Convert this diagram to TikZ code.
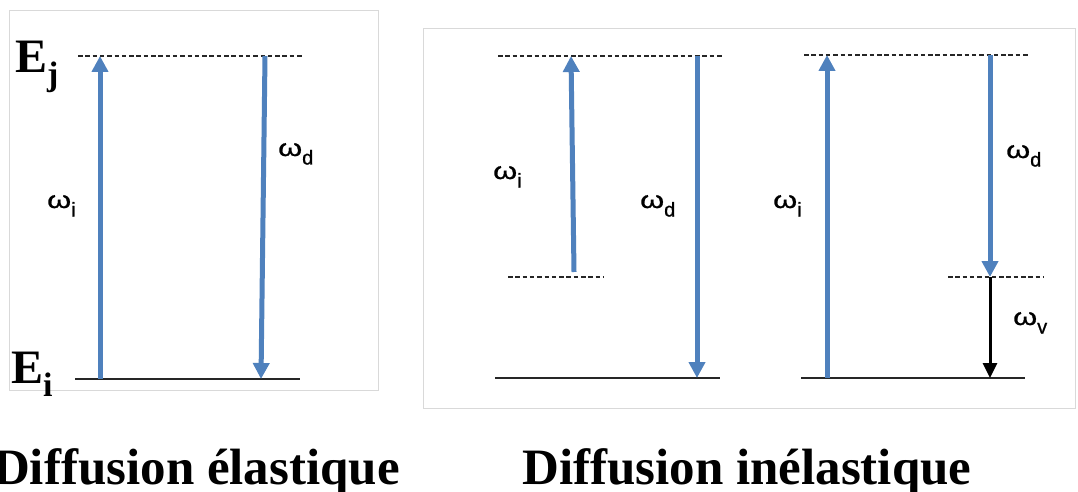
\documentclass[tikz,border=0pt]{standalone}
\usepackage{fontspec}
\setmainfont{Liberation Serif}
\setsansfont{Liberation Sans}
\newfontfamily\omfont[FakeBold=0.8]{Liberation Sans}
\usetikzlibrary{arrows.meta}
\definecolor{arrowblue}{RGB}{79,129,189}
\definecolor{boxgray}{RGB}{217,217,217}
\newcommand{\wlab}[1]{{\omfont\fontsize{24}{24}\selectfont\scalebox{1.28}[1]{ω}\raisebox{-8.5pt}{\fontsize{20}{20}\selectfont #1}}}
\newcommand{\elab}[1]{{\bfseries\fontsize{48}{48}\selectfont E\raisebox{-13pt}{\fontsize{34}{34}\selectfont #1}}}
\begin{document}
\begin{tikzpicture}[x=1pt,y=-1pt,
  bluearrow/.style={draw=arrowblue, line width=5pt, -{Triangle[width=16pt,length=16pt]}},
  blackarrow/.style={draw=black, line width=3pt, -{Triangle[width=14pt,length=15pt]}},
  level/.style={draw=black!85, line width=1.4pt},
  virtual/.style={draw=black!85, line width=1.1pt, dash pattern=on 4.5pt off 2.8pt},
  panel/.style={draw=boxgray, line width=1pt},
  lbl/.style={inner sep=0pt, anchor=base west},
  caption/.style={inner sep=0pt, font=\bfseries\fontsize{51}{51}\selectfont}
]
\useasboundingbox (0,0) rectangle (1078,492);
\fill[white] (0,0) rectangle (1078,492);
% panels
\draw[panel] (9,11) rectangle (378,390);
\draw[panel] (423,29) rectangle (1075,408);

% ---- left panel: elastic
\coordinate (LTl) at (78,56);  \coordinate (LTr) at (302,56);
\coordinate (LBl) at (75,379); \coordinate (LBr) at (300,379);
\coordinate (La1) at (100,379); \coordinate (La2) at (100,56);
\coordinate (Lb1) at (265,56);  \coordinate (Lb2) at (261,379);
\draw[virtual] (LTl) -- (LTr);
\draw[level] (LBl) -- (LBr);
\draw[bluearrow] (La1) -- (La2);
\draw[bluearrow] (Lb1) -- (Lb2);
\node[lbl] (Ej) at (15,73) {\elab{j}};
\node[lbl] (Ei) at (11,383) {\elab{i}};
\node[lbl] (Lwi) at (47,208) {\wlab{i}};
\node[lbl] (Lwd) at (278,156) {\wlab{d}};

% ---- middle group
\coordinate (MTl) at (498,56);  \coordinate (MTr) at (722,56);
\coordinate (MBl) at (495,378); \coordinate (MBr) at (720,378);
\coordinate (MVl) at (508,277); \coordinate (MVr) at (603,277);
\coordinate (Ma1) at (574,272); \coordinate (Ma2) at (571,56);
\coordinate (Mb1) at (697,56);  \coordinate (Mb2) at (697,378);
\draw[virtual] (MTl) -- (MTr);
\draw[virtual] (MVl) -- (MVr);
\draw[level] (MBl) -- (MBr);
\draw[bluearrow] (Ma1) -- (Ma2);
\draw[bluearrow] (Mb1) -- (Mb2);
\node[lbl] (Mwi) at (493,179) {\wlab{i}};
\node[lbl] (Mwd) at (640,208) {\wlab{d}};

% ---- right group
\coordinate (RTl) at (804,55);  \coordinate (RTr) at (1028,55);
\coordinate (RBl) at (801,378); \coordinate (RBr) at (1025,378);
\coordinate (RVl) at (948,277); \coordinate (RVr) at (1043,277);
\coordinate (Ra1) at (827,378); \coordinate (Ra2) at (827,55);
\coordinate (Rb1) at (990,55);  \coordinate (Rb2) at (990,277);
\coordinate (Rc2) at (990,378);
\draw[virtual] (RTl) -- (RTr);
\draw[virtual] (RVl) -- (RVr);
\draw[level] (RBl) -- (RBr);
\draw[bluearrow] (Ra1) -- (Ra2);
\draw[bluearrow] (Rb1) -- (Rb2);
\draw[blackarrow] (Rb2) -- (Rc2);
\node[lbl] (Rwi) at (773,208) {\wlab{i}};
\node[lbl] (Rwd) at (1006,158) {\wlab{d}};
\node[lbl] (Rwv) at (1013,325) {\wlab{v}};

% ---- captions
\node[caption, anchor=base east] (capE) at (400,484) {Diffusion élastique};
\node[caption, anchor=base west] (capI) at (522,484) {Diffusion inélastique};
\end{tikzpicture}
\end{document}
